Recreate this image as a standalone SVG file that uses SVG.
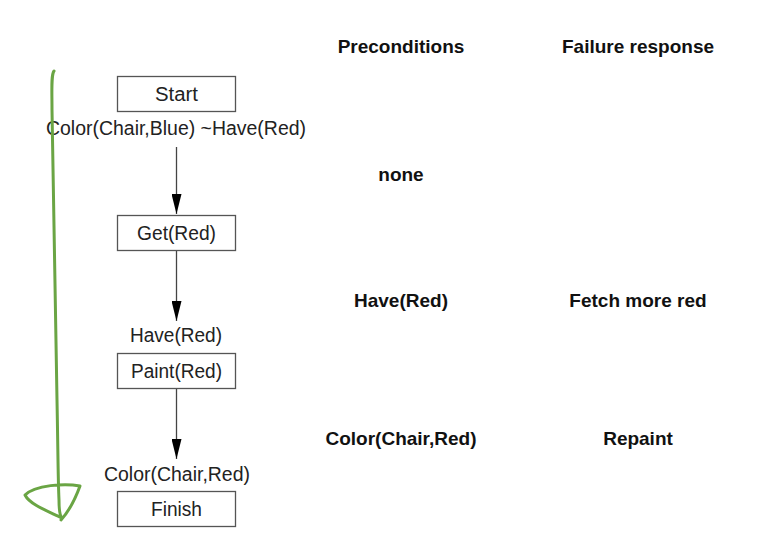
<svg xmlns="http://www.w3.org/2000/svg" width="761" height="548" viewBox="0 0 761 548">
<defs>
<marker id="ah" viewBox="0 0 20 10" refX="20" refY="5" markerWidth="20" markerHeight="10" markerUnits="userSpaceOnUse" orient="auto">
<path d="M0,0 L20,5 L0,10 Z" fill="#000"/>
</marker>
<style>
.box{fill:#fff;stroke:#555;stroke-width:1.3}
.t{font-family:"Liberation Sans",Arial,sans-serif;font-size:20px;fill:#222;text-anchor:middle}
.h{font-family:"Liberation Sans",Arial,sans-serif;font-size:19px;font-weight:bold;fill:#111;text-anchor:middle}
.c{stroke:#444;stroke-width:1.3;fill:none}
</style>
</defs>
<rect width="761" height="548" fill="#fff"/>
<g id="connectors">
<line class="c" x1="176.5" y1="147" x2="176.5" y2="214" marker-end="url(#ah)"/>
<line class="c" x1="176.5" y1="250" x2="176.5" y2="321" marker-end="url(#ah)"/>
<line class="c" x1="176.5" y1="388" x2="176.5" y2="459" marker-end="url(#ah)"/>
</g>
<g id="start"><rect class="box" x="117.5" y="76.5" width="118" height="35"/><text class="t" x="176.5" y="100.5" textLength="43" lengthAdjust="spacingAndGlyphs">Start</text></g>
<g id="get"><rect class="box" x="117.5" y="215.5" width="118" height="35"/><text class="t" x="176.5" y="239.5" textLength="79" lengthAdjust="spacingAndGlyphs">Get(Red)</text></g>
<g id="paint"><rect class="box" x="117.5" y="353.5" width="118" height="35"/><text class="t" x="176.5" y="377.5" textLength="91" lengthAdjust="spacingAndGlyphs">Paint(Red)</text></g>
<g id="finish"><rect class="box" x="117.5" y="491.5" width="118" height="35"/><text class="t" x="176.5" y="515.5" textLength="51" lengthAdjust="spacingAndGlyphs">Finish</text></g>
<g id="labels">
<text class="t" x="176" y="135" textLength="260" lengthAdjust="spacingAndGlyphs">Color(Chair,Blue) ~Have(Red)</text>
<text class="t" x="176" y="342" textLength="92" lengthAdjust="spacingAndGlyphs">Have(Red)</text>
<text class="t" x="177" y="481" textLength="146" lengthAdjust="spacingAndGlyphs">Color(Chair,Red)</text>
</g>
<g id="table">
<text class="h" x="401" y="53">Preconditions</text>
<text class="h" x="638" y="53">Failure response</text>
<text class="h" x="401" y="181">none</text>
<text class="h" x="401" y="307">Have(Red)</text>
<text class="h" x="638" y="307">Fetch more red</text>
<text class="h" x="401" y="445">Color(Chair,Red)</text>
<text class="h" x="638" y="445">Repaint</text>
</g>
<g id="annotation">
<path d="M54,71 C51,75 52,90 52,110 C53,200 56,300 57,400 C58,450 58,480 59,500 C59,510 60,516 62,518 C50,512 30,505 25,495 C35,485 65,483 80,486 C76,497 70,510 61,520" fill="none" stroke="#6aa544" stroke-width="3" stroke-linecap="round" stroke-linejoin="round"/>
</g>
</svg>
